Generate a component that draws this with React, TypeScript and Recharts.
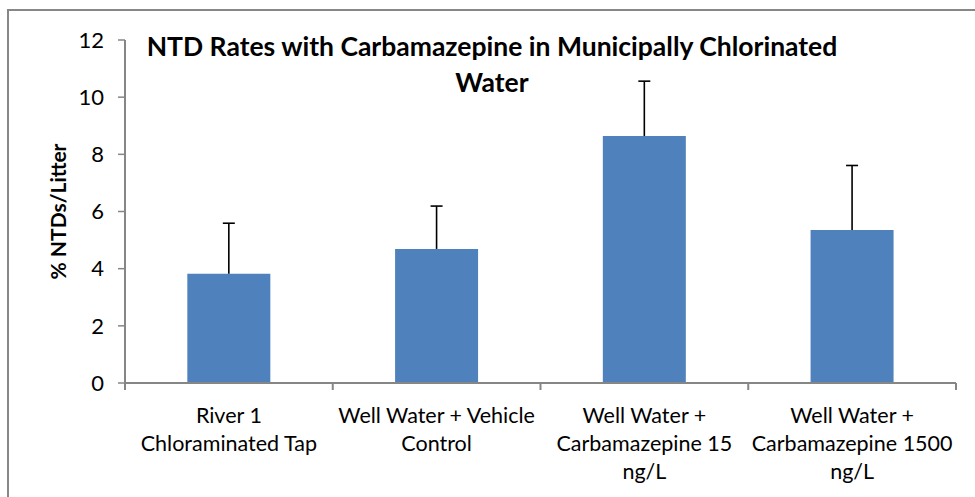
import { BarChart, Bar, XAxis, YAxis, Label } from 'recharts'

const categories = [
  ['River 1', 'Chloraminated Tap'],
  ['Well Water + Vehicle', 'Control'],
  ['Well Water +', 'Carbamazepine 15', 'ng/L'],
  ['Well Water +', 'Carbamazepine 1500', 'ng/L'],
]
const rates = [3.82, 4.69, 8.64, 5.35]
const errors = [1.77, 1.5, 1.92, 2.26]
const yTicks = [0, 2, 4, 6, 8, 10, 12]

const data = categories.map((lines, i) => ({
  name: lines.join(' '),
  lines,
  rate: rates[i],
  err: errors[i],
}))

const FONT = 'Lato, "Open Sans", sans-serif'
const AXIS = '#868686'

function CategoryTick(props: any) {
  const { x, y, payload, index } = props
  const half = payload.offset ?? 0
  const lines: string[] = data[index]?.lines ?? [String(payload.value)]
  return (
    <g>
      <line x1={x - half} y1={y - 8} x2={x - half} y2={y - 1} stroke={AXIS} strokeWidth={2} />
      {index === data.length - 1 && (
        <line x1={x + half} y1={y - 8} x2={x + half} y2={y - 1} stroke={AXIS} strokeWidth={2} />
      )}
      <text x={x} y={y} textAnchor="middle" fontFamily={FONT} fontSize={21.5} fill="#000">
        {lines.map((l, k) => (
          <tspan key={k} x={x} dy={k === 0 ? 32 : 28}>{l}</tspan>
        ))}
      </text>
    </g>
  )
}

function ErrorShape(props: any) {
  const { x, y, width } = props
  const h = props.height
  const cx = x + width / 2
  return (
    <g>
      <line x1={cx} y1={y} x2={cx} y2={y + h} stroke="#000" strokeWidth={1.6} />
      <line x1={cx - 6} y1={y} x2={cx + 6} y2={y} stroke="#000" strokeWidth={1.6} />
    </g>
  )
}

export default function App() {
  return (
    <div style={{ position: 'absolute', left: 0, top: 0, width: 975, height: 497, overflow: 'hidden', background: '#fff' }}>
      <div
        style={{
          position: 'absolute', left: 7, top: 9, width: 1000, height: 600,
          border: '2px solid #878787', boxSizing: 'border-box',
        }}
      />
      <BarChart
        width={975}
        height={497}
        data={data}
        margin={{ top: 40, right: 19, left: 0, bottom: 0 }}
        barCategoryGap="30%"
        style={{ position: 'absolute', left: 0, top: 0 }}
      >
        <XAxis
          dataKey="name"
          height={114}
          interval={0}
          tickLine={false}
          axisLine={{ stroke: AXIS, strokeWidth: 2 }}
          tick={<CategoryTick />}
        />
        <YAxis
          width={125}
          domain={[0, 12]}
          ticks={yTicks}
          interval={0}
          tickSize={7}
          tickMargin={14}
          axisLine={{ stroke: AXIS, strokeWidth: 2 }}
          tickLine={{ stroke: AXIS, strokeWidth: 1.5 }}
          tick={{ fill: '#000', fontSize: 22, fontFamily: FONT }}
        >
          <Label
            content={({ viewBox }: any) => {
              const cx = viewBox.x + 57
              const cy = viewBox.y + viewBox.height / 2
              return (
                <text
                  x={cx}
                  y={cy}
                  transform={`rotate(-90 ${cx} ${cy})`}
                  textAnchor="middle"
                  dominantBaseline="central"
                  fontFamily={FONT}
                  fontWeight="bold"
                  fontSize={21}
                  fill="#000"
                >
                  % NTDs/Litter
                </text>
              )
            }}
          />
        </YAxis>
        <Bar dataKey="rate" stackId="a" fill="#4F81BD" isAnimationActive={false} />
        <Bar dataKey="err" stackId="a" shape={<ErrorShape />} isAnimationActive={false} />
      </BarChart>
      <div
        style={{
          position: 'absolute', left: 92, top: 28, width: 800, textAlign: 'center',
          fontFamily: FONT, fontWeight: 'bold', fontSize: 26.5, lineHeight: '36px', color: '#000',
        }}
      >
        NTD Rates with Carbamazepine in Municipally Chlorinated
        <br />
        Water
      </div>
    </div>
  )
}
